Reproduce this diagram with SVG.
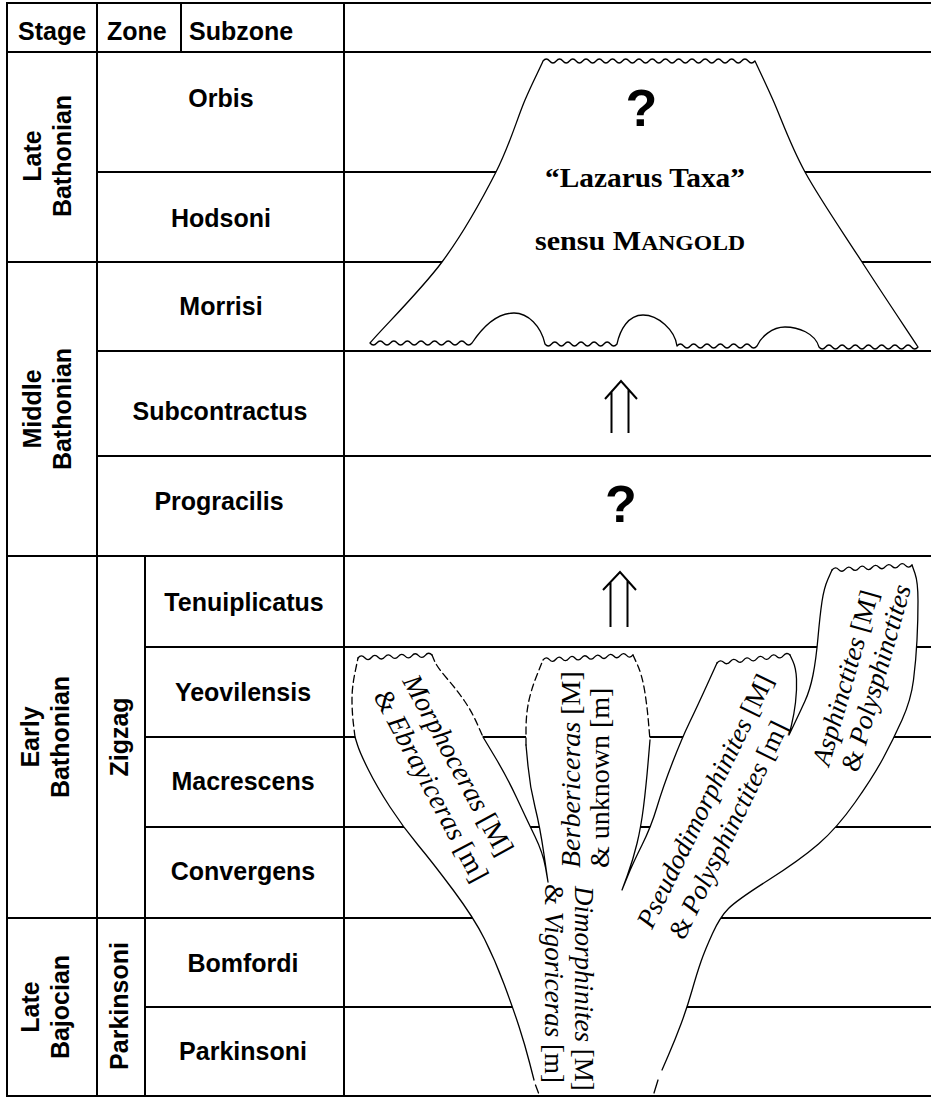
<svg xmlns="http://www.w3.org/2000/svg" width="931" height="1099" viewBox="0 0 931 1099">
<style>
.grid line{stroke:#000;stroke-width:2;fill:none}
.sans{font-family:"Liberation Sans",Arial,sans-serif;font-weight:bold;font-size:25px;fill:#000}
.mid{text-anchor:middle}
.serif{font-family:"Liberation Serif","Times New Roman",serif;font-size:27px;fill:#000}
.big{font-size:28px}
.it{font-style:italic}
.lz{font-family:"Liberation Serif","Times New Roman",serif;font-weight:bold;font-size:28px;fill:#000;text-anchor:middle}
.q{font-family:"Liberation Sans",Arial,sans-serif;font-weight:bold;font-size:52px;fill:#000;text-anchor:middle}
.edge{fill:none;stroke:#000;stroke-width:1.3;stroke-linejoin:round;stroke-linecap:round}
.dash{stroke-dasharray:7 4}
.fillw{fill:#fff;stroke:none}
.shape{fill:#fff;stroke:#000;stroke-width:1.3;stroke-linejoin:round}
.arrow{fill:none;stroke:#000;stroke-width:2}
</style>
<rect width="931" height="1099" fill="#fff"/>
<g id="grid" class="grid">
<line x1="6" y1="3" x2="931" y2="3"/>
<line x1="6" y1="52" x2="931" y2="52"/>
<line x1="97" y1="172" x2="931" y2="172"/>
<line x1="6" y1="262" x2="931" y2="262"/>
<line x1="97" y1="351" x2="931" y2="351"/>
<line x1="97" y1="456" x2="931" y2="456"/>
<line x1="6" y1="556" x2="931" y2="556"/>
<line x1="145" y1="647" x2="931" y2="647"/>
<line x1="145" y1="737" x2="931" y2="737"/>
<line x1="145" y1="827" x2="931" y2="827"/>
<line x1="6" y1="918" x2="931" y2="918"/>
<line x1="145" y1="1007" x2="931" y2="1007"/>
<line x1="6" y1="1096" x2="931" y2="1096"/>
<line x1="7" y1="2" x2="7" y2="1097"/>
<line x1="97" y1="2" x2="97" y2="1097"/>
<line x1="181" y1="2" x2="181" y2="52"/>
<line x1="145" y1="556" x2="145" y2="1097"/>
<line x1="344" y1="2" x2="344" y2="1097"/>
</g>
<g id="header">
<text class="sans" x="18" y="40">Stage</text>
<text class="sans" x="107" y="40">Zone</text>
<text class="sans" x="189" y="40">Subzone</text>
</g>
<g id="stage-late-bathonian">
<text class="sans mid" transform="translate(41,156) rotate(-90)">Late</text>
<text class="sans mid" transform="translate(71,156) rotate(-90)">Bathonian</text>
</g>
<g id="stage-middle-bathonian">
<text class="sans mid" transform="translate(41,409) rotate(-90)">Middle</text>
<text class="sans mid" transform="translate(71,409) rotate(-90)">Bathonian</text>
</g>
<g id="stage-early-bathonian">
<text class="sans mid" transform="translate(39,737) rotate(-90)">Early</text>
<text class="sans mid" transform="translate(69,737) rotate(-90)">Bathonian</text>
</g>
<g id="stage-late-bajocian">
<text class="sans mid" transform="translate(39,1007) rotate(-90)">Late</text>
<text class="sans mid" transform="translate(69,1007) rotate(-90)">Bajocian</text>
</g>
<g id="zone-zigzag"><text class="sans mid" transform="translate(128,737) rotate(-90)">Zigzag</text></g>
<g id="zone-parkinsoni"><text class="sans mid" transform="translate(128,1006) rotate(-90)">Parkinsoni</text></g>
<g id="zone-orbis"><text class="sans mid" x="221" y="107">Orbis</text></g>
<g id="zone-hodsoni"><text class="sans mid" x="221" y="227">Hodsoni</text></g>
<g id="zone-morrisi"><text class="sans mid" x="221" y="315">Morrisi</text></g>
<g id="zone-subcontractus"><text class="sans mid" x="220" y="420">Subcontractus</text></g>
<g id="zone-progracilis"><text class="sans mid" x="219" y="510">Progracilis</text></g>
<g id="subzone-tenuiplicatus"><text class="sans mid" x="244" y="611">Tenuiplicatus</text></g>
<g id="subzone-yeovilensis"><text class="sans mid" x="243" y="701">Yeovilensis</text></g>
<g id="subzone-macrescens"><text class="sans mid" x="243" y="790">Macrescens</text></g>
<g id="subzone-convergens"><text class="sans mid" x="243" y="880">Convergens</text></g>
<g id="subzone-bomfordi"><text class="sans mid" x="243" y="972">Bomfordi</text></g>
<g id="subzone-parkinsoni"><text class="sans mid" x="243" y="1060">Parkinsoni</text></g>

<g id="lazarus-taxa">
<path class="shape" d="M543,61 q3.31,-4 6.62,0 t6.62,0 t6.62,0 t6.62,0 t6.62,0 t6.62,0 t6.62,0 t6.62,0 t6.62,0 t6.62,0 t6.62,0 t6.62,0 t6.62,0 t6.62,0 t6.62,0 t6.62,0 t6.62,0 t6.62,0 t6.62,0 t6.62,0 t6.62,0 t6.62,0 t6.62,0 t6.62,0 t6.62,0 t6.62,0 t6.62,0 t6.62,0 t6.62,0 t6.62,0 t6.62,0 t6.62,0 L755,61 C758,67.7 764.7,81.3 773,100 C781.3,118.7 790.2,145 805,172 C819.8,199 843.2,232.8 862,262 C880.8,291.2 908.7,332.8 918,347 q-3.3,4 -6.6,0 t-6.6,0 t-6.6,0 t-6.6,0 t-6.6,0 t-6.6,0 t-6.6,0 t-6.6,0 t-6.6,0 t-6.6,0 t-6.6,0 t-6.6,0 t-6.6,0 t-6.6,0 t-6.6,0 C815,333 798,327 785,327 C772,327 761,337 757,346 q-3.333,4 -6.667,0 t-6.667,0 t-6.667,0 t-6.667,0 t-6.667,0 t-6.667,0 t-6.667,0 t-6.667,0 t-6.667,0 t-6.667,0 t-6.667,0 t-6.667,0 C675,330 658,315 643,315 C628,315 620,330 617,344 q-3.273,4 -6.545,0 t-6.545,0 t-6.545,0 t-6.545,0 t-6.545,0 t-6.545,0 t-6.545,0 t-6.545,0 t-6.545,0 t-6.545,0 t-6.545,0 C541,326 528,313 514,313 C497,313 482,328 472,343 q-3.4,4 -6.8,0 t-6.8,0 t-6.8,0 t-6.8,0 t-6.8,0 t-6.8,0 t-6.8,0 t-6.8,0 t-6.8,0 t-6.8,0 t-6.8,0 t-6.8,0 t-6.8,0 t-6.8,0 t-6.8,0 C382,328.7 421,290.3 442,262 C463,233.7 482.2,199 496,172 C509.8,145 517.2,118.3 525,100 C532.8,81.7 540,68.3 543,61 Z"/>
<text class="q" x="641.5" y="126">?</text>
<text class="lz" x="645" y="187" textLength="200" lengthAdjust="spacingAndGlyphs">“Lazarus Taxa”</text>
<text class="lz" x="640" y="250" textLength="210" lengthAdjust="spacingAndGlyphs">sensu M<tspan font-size="22">ANGOLD</tspan></text>
</g>

<g id="progracilis-query"><text class="q" x="621" y="522">?</text></g>

<g id="lineage-tree">
<path class="fillw" d="M539,1093 L534,1080 L529.5,1062.5 Q525,1045 519,1026.5 Q513,1008 504,984 Q495,960 484.5,939 Q474,918 453.5,890.5 Q433,863 418,845 Q403,827 390,807 Q377,787 368.5,770 Q360,753 357.5,745 L355,737 L353.5,724.5 Q352,712 352,699.5 Q352,687 355,672.5 L358,658 L432,655 L434.5,661 Q437,667 447,678.5 Q457,690 464.5,701 Q472,712 477.5,724.5 L483,737 L495,757 Q507,777 517,798.5 Q527,820 535,836.5 Q543,853 545.5,867.5 L548,882 L544,854.5 Q540,827 535,807 Q530,787 528,766 L526,745 L526,730 Q526,715 528.5,702.5 Q531,690 537,675 L543,660 L633,655 L637.5,665 Q642,675 644.5,690 Q647,705 648.5,722.5 L650,740 L648,763.5 Q646,787 643.5,807 Q641,827 637,843.5 Q633,860 627.5,875 L622,890 L627.5,876.5 Q633,863 642,845 Q651,827 657,807 Q663,787 672.5,762.5 Q682,738 689.5,722.5 Q697,707 707,685 L717,663 L790,655 L793,661.5 Q796,668 796.5,679 Q797,690 795.5,702.5 Q794,715 791.5,725 L789,735 L794.5,723.5 Q800,712 805,701 Q810,690 813,675 Q816,660 818,637.5 Q820,615 822,601.5 Q824,588 828,579 L832,570 L912,565 L915,573.5 Q918,582 918,601 Q918,620 917,640 Q916,660 913.5,680 Q911,700 902,720 Q893,740 883,758.5 Q873,777 855,802.5 Q837,828 818.5,844 Q800,860 768.5,880 Q737,900 728.5,908.5 Q720,917 712.5,933.5 Q705,950 701,961.5 Q697,973 692,990.5 Q687,1008 681,1024 Q675,1040 668.5,1055 L662,1070 L654,1093 Z"/>
<path class="edge" d="M534,1080 L529.5,1062.5 Q525,1045 519,1026.5 Q513,1008 504,984 Q495,960 484.5,939 Q474,918 453.5,890.5 Q433,863 418,845 Q403,827 390,807 Q377,787 368.5,770 Q360,753 357.5,745 L355,737"/>
<path class="edge dash" d="M355,737 L353.5,724.5 Q352,712 352,699.5 Q352,687 355,672.5 L358,658"/>
<path class="edge" d="M358,658 q3.36,-4 6.73,-0.27 t6.73,-0.27 t6.73,-0.27 t6.73,-0.27 t6.73,-0.27 t6.73,-0.27 t6.73,-0.27 t6.73,-0.27 t6.73,-0.27 t6.73,-0.27 t6.73,-0.27"/>
<path class="edge dash" d="M432,655 L434.5,661 Q437,667 447,678.5 Q457,690 464.5,701 Q472,712 477.5,724.5 L483,737"/>
<path class="edge" d="M483,737 L495,757 Q507,777 517,798.5 Q527,820 535,836.5 Q543,853 545.5,867.5 L548,882 L544,854.5 Q540,827 535,807 Q530,787 528,766 L526,745"/>
<path class="edge dash" d="M526,745 L526,730 Q526,715 528.5,702.5 Q531,690 537,675 L543,660"/>
<path class="edge" d="M543,660 q3.21,-4 6.43,-0.36 t6.43,-0.36 t6.43,-0.36 t6.43,-0.36 t6.43,-0.36 t6.43,-0.36 t6.43,-0.36 t6.43,-0.36 t6.43,-0.36 t6.43,-0.36 t6.43,-0.36 t6.43,-0.36 t6.43,-0.36 t6.43,-0.36"/>
<path class="edge dash" d="M633,655 L637.5,665 Q642,675 644.5,690 Q647,705 648.5,722.5 L650,740"/>
<path class="edge" d="M650,740 L648,763.5 Q646,787 643.5,807 Q641,827 637,843.5 Q633,860 627.5,875 L622,890 L627.5,876.5 Q633,863 642,845 Q651,827 657,807 Q663,787 672.5,762.5 Q682,738 689.5,722.5 Q697,707 707,685 L717,663"/>
<path class="edge" d="M717,663 q3.32,-4 6.64,-0.73 t6.64,-0.73 t6.64,-0.73 t6.64,-0.73 t6.64,-0.73 t6.64,-0.73 t6.64,-0.73 t6.64,-0.73 t6.64,-0.73 t6.64,-0.73 t6.64,-0.73"/>
<path class="edge" d="M790,655 L793,661.5 Q796,668 796.5,679 Q797,690 795.5,702.5 Q794,715 791.5,725 L789,735 L794.5,723.5 Q800,712 805,701 Q810,690 813,675 Q816,660 818,637.5 Q820,615 822,601.5 Q824,588 828,579 L832,570"/>
<path class="edge" d="M832,570 q3.33,-4 6.67,-0.42 t6.67,-0.42 t6.67,-0.42 t6.67,-0.42 t6.67,-0.42 t6.67,-0.42 t6.67,-0.42 t6.67,-0.42 t6.67,-0.42 t6.67,-0.42 t6.67,-0.42 t6.67,-0.42"/>
<path class="edge" d="M912,565 L915,573.5 Q918,582 918,601 Q918,620 917,640 Q916,660 913.5,680 Q911,700 902,720 Q893,740 883,758.5 Q873,777 855,802.5 Q837,828 818.5,844 Q800,860 768.5,880 Q737,900 728.5,908.5 Q720,917 712.5,933.5 Q705,950 701,961.5 Q697,973 692,990.5 Q687,1008 681,1024 Q675,1040 668.5,1055 L662,1070"/>
<path class="edge" d="M535.5,1085 L538.5,1093 M658,1080 L654,1093"/>
</g>

<g id="label-morphoceras">
<text class="serif big" transform="translate(402,681) rotate(61.5)"><tspan class="it">Morphoceras</tspan> [M]</text>
<text class="serif big" transform="translate(373,696) rotate(62)">&amp; <tspan class="it">Ebrayiceras</tspan> [m]</text>
</g>
<g id="label-berbericeras">
<text class="serif big" transform="translate(580,868) rotate(-90)"><tspan class="it">Berbericeras</tspan> [M]</text>
<text class="serif big" transform="translate(609,868) rotate(-90)">&amp; unknown [m]</text>
</g>
<g id="label-dimorphinites">
<text class="serif" transform="translate(575,886) rotate(90)"><tspan class="it">Dimorphinites</tspan> [M]</text>
<text class="serif" transform="translate(545,884) rotate(90)">&amp; <tspan class="it">Vigoriceras</tspan> [m]</text>
</g>
<g id="label-pseudodimorphinites">
<text class="serif" transform="translate(652,930) rotate(-64)"><tspan class="it">Pseudodimorphinites</tspan> [M]</text>
<text class="serif" transform="translate(684,941) rotate(-64)">&amp; <tspan class="it">Polysphinctites</tspan> [m]</text>
</g>
<g id="label-asphinctites">
<text class="serif" transform="translate(829,767) rotate(-74)"><tspan class="it">Asphinctites</tspan> [M]</text>
<text class="serif" transform="translate(858,773) rotate(-74)">&amp; <tspan class="it">Polysphinctites</tspan></text>
</g>

<g id="connectors">
<path class="arrow" d="M605,399 L621,381 L637,399 M611.5,391.7 V433 M628.5,389.4 V433"/>
<path class="arrow" d="M603,590 L620,572 L636,590 M610.5,582 V627 M627.5,580.4 V627"/>
</g>
</svg>
